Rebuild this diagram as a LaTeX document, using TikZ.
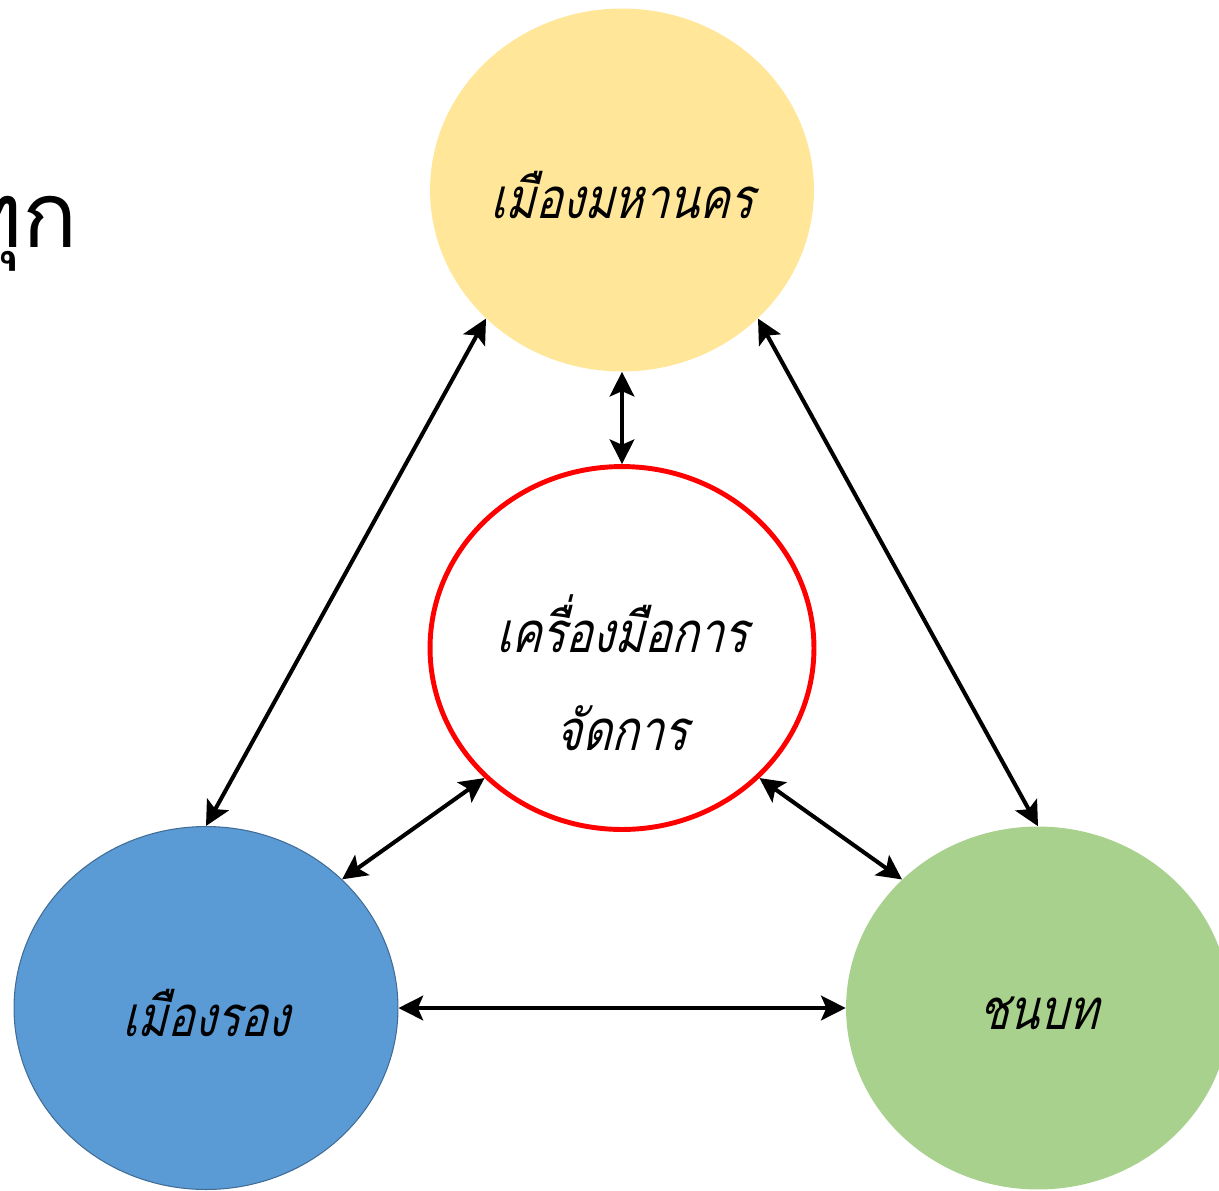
\documentclass[tikz,border=0pt]{standalone}
\usepackage{fontspec}
\newfontfamily\thaislant[Script=Thai,FakeSlant=0.25,FakeStretch=0.8]{Loma}
\newfontfamily\thaiplain[Script=Thai]{Loma}
\usetikzlibrary{arrows.meta,shapes.geometric}
\definecolor{cityyellow}{HTML}{FFE699}
\definecolor{cityblue}{HTML}{5B9BD5}
\definecolor{citygreen}{HTML}{A9D18E}

\begin{document}
\begin{tikzpicture}[x=0.02cm,y=-0.02cm,
   zone/.style={ellipse,inner sep=0pt,minimum width=7.68cm,minimum height=7.26cm},
   zonename/.style={font=\thaislant\fontsize{32}{56}\selectfont,align=center,inner sep=0pt},
   link/.style={{Stealth[length=14pt,width=14pt,inset=3pt]}-{Stealth[length=14pt,width=14pt,inset=3pt]},line width=2.3pt}]
\useasboundingbox (0,0) rectangle (1219,1190);
\node[zone,fill=cityyellow] (metro) at (622,190) {};
\node[zone,draw=red,line width=2.8pt,fill=white] (tool) at (622,648) {};
\node[zone,fill=cityblue,draw=cityblue!70!black,line width=0.6pt] (second) at (206,1008) {};
\node[zone,fill=citygreen] (rural) at (1038,1008) {};
\node[zonename] (metroname) at ([yshift=-0.1cm]metro.center) {เมืองมหานคร};
\node[zonename] (toolname) at ([yshift=-0.5cm]tool.center) {เครื่องมือการ\\จัดการ};
\node[zonename] (secondname) at ([yshift=-0.1cm]second.center) {เมืองรอง};
\node[zonename] (ruralname) at ([yshift=-0.1cm]rural.center) {ชนบท};
\node[font=\thaiplain\fontsize{52}{60}\selectfont,anchor=east] (every) at (84,234) {ทุก};
% connectors
\draw[link] (metro.south) -- (tool.north);
\draw[link] (metro.south west) -- (second.north);
\draw[link] (metro.south east) -- (rural.north);
\draw[link] (tool.south west) -- (second.north east);
\draw[link] (tool.south east) -- (rural.north west);
\draw[link] (second.east) -- (rural.west);
\end{tikzpicture}
\end{document}
